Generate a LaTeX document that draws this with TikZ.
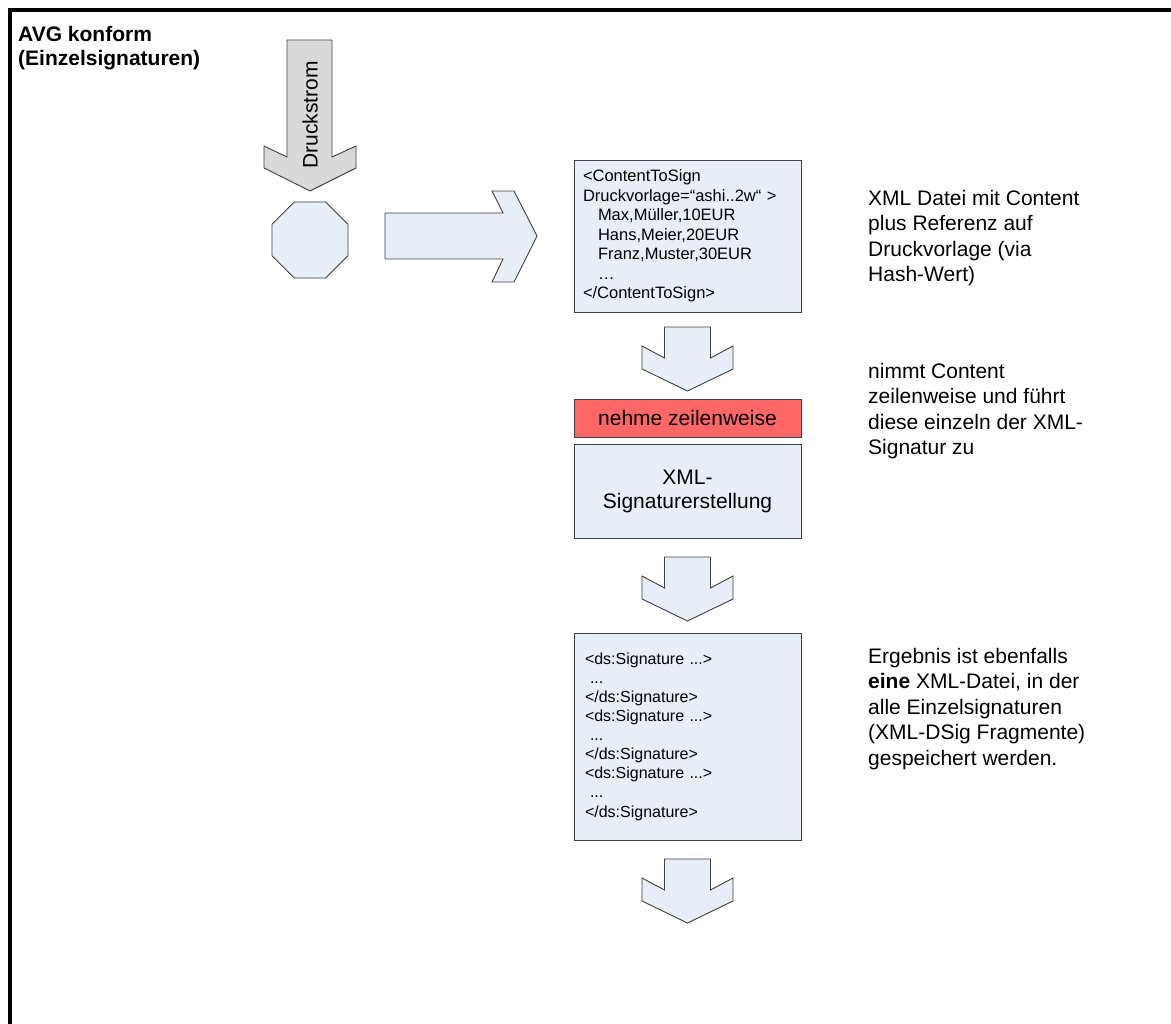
\documentclass[tikz,border=0pt]{standalone}
\usepackage{fontspec}
\setmainfont{Liberation Sans}
\usetikzlibrary{shapes.geometric}
\definecolor{boxblue}{HTML}{E8EEF8}
\definecolor{arrgray}{HTML}{D9D9D9}
\definecolor{redbox}{HTML}{FF6666}
\definecolor{edgecol}{HTML}{404040}
\begin{document}
\begin{tikzpicture}[x=1pt,y=-1pt,
  shapestyle/.style={draw=edgecol, line width=0.9pt, fill=boxblue, line join=miter},
  grayshape/.style={draw=edgecol, line width=0.9pt, fill=arrgray},
  boxnode/.style={shapestyle, rectangle, minimum width=227, inner sep=0pt},
  bigtext/.style={font=\fontsize{21}{25.5}\selectfont},
  codetext/.style={font=\fontsize{16.5}{19.5}\selectfont},
  sidenote/.style={bigtext, align=left, anchor=west, inner sep=0pt}]
\useasboundingbox (0,0) rectangle (1171,1024);
% frame
\begin{scope}
\clip (0,0) rectangle (1171,1024);
\draw[line width=4pt] (10,1040) -- (10,10) -- (1190,10);
\end{scope}
% title
\node[bigtext, font=\fontsize{21}{24}\selectfont\bfseries, align=left, anchor=west, inner sep=0pt] (title) at (18,48.5) {AVG konform\\(Einzelsignaturen)};
% Druckstrom arrow
\draw[grayshape] (287,40) -- (332,40) -- (332,157) -- (356,146) -- (356,168) -- (310,191) -- (264,168) -- (264,146) -- (287,157) -- cycle;
\node[bigtext, rotate=90, inner sep=0pt] (druck) at (310,115) {Druckstrom};
% octagon
\node[regular polygon, regular polygon sides=8, minimum size=82.3pt, inner sep=0pt, shapestyle] (oct) at (310,240) {};
% right arrow
\draw[shapestyle] (385,213) -- (503,213) -- (492,191) -- (514,191) -- (537,236) -- (514,282) -- (492,282) -- (503,259) -- (385,259) -- cycle;
% content box
\node[boxnode, minimum height=152, text width=209, inner xsep=9pt, align=left, codetext] (content) at (687.5,236) {%
<ContentToSign\\
Druckvorlage=“ashi..2w“ >\\
\hspace*{15pt}Max,Müller,10EUR\\
\hspace*{15pt}Hans,Meier,20EUR\\
\hspace*{15pt}Franz,Muster,30EUR\\
\hspace*{15pt}…\\
</ContentToSign>};
% down arrows
\foreach \T/\nm in {327/da, 557/db, 859/dc}{
  \draw[shapestyle] (664.5,\T) -- (710.5,\T) -- (710.5,\T+31) -- (733,\T+19) -- (733,\T+42) -- (687.5,\T+64) -- (642,\T+42) -- (642,\T+19) -- (664.5,\T+31) -- cycle;
}
% red box
\node[boxnode, minimum height=38, fill=redbox, bigtext] (red) at (687.5,418) {nehme zeilenweise};
% XML box
\node[boxnode, minimum height=94, bigtext, align=center, font=\fontsize{21}{24}\selectfont] (xmlbox) at (687.5,491) {XML-\\Signaturerstellung};
% signature box
\node[boxnode, minimum height=207, text width=205, inner xsep=11pt, align=left, codetext, font=\fontsize{16}{19.1}\selectfont] (sig) at (687.5,736.5) {%
<ds:Signature ...>\\
\hspace*{5pt}...\\
</ds:Signature>\\
<ds:Signature ...>\\
\hspace*{5pt}...\\
</ds:Signature>\\
<ds:Signature ...>\\
\hspace*{5pt}...\\
</ds:Signature>};
% side notes
\node[sidenote] (n1) at (868,238) {XML Datei mit Content\\plus Referenz auf\\Druckvorlage (via\\Hash-Wert)};
\node[sidenote] (n2) at (868,411) {nimmt Content\\zeilenweise und führt\\diese einzeln der XML-\\Signatur zu};
\node[sidenote] (n3) at (868,709) {Ergebnis ist ebenfalls\\\textbf{eine} XML-Datei, in der\\alle Einzelsignaturen\\(XML-DSig Fragmente)\\gespeichert werden.};
\end{tikzpicture}
\end{document}
